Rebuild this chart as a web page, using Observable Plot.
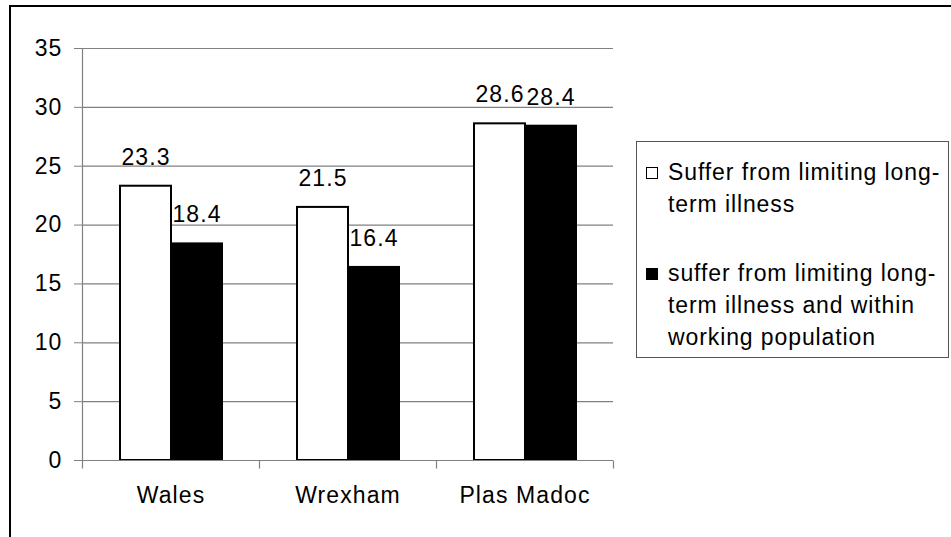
<!DOCTYPE html>
<html>
<head>
<meta charset="utf-8">
<script src="https://cdn.jsdelivr.net/npm/d3@7"></script>
<script src="https://cdn.jsdelivr.net/npm/@observablehq/plot@0.6"></script>
<style>
  html, body { margin: 0; padding: 0; background: #fff; overflow: hidden; }
  #wrap { position: relative; width: 951px; height: 537px; font-family: "Liberation Sans", Arial, sans-serif; }
  #frame { position: absolute; left: 9px; top: 5px; width: 1200px; height: 800px; border-top: 2px solid #000; border-left: 2px solid #000; box-sizing: border-box; pointer-events: none; }
  #chart { position: absolute; left: 0; top: 0; }
  #legend { position: absolute; left: 636px; top: 141px; width: 313px; height: 217px; box-sizing: border-box; border: 1px solid #555; background: #fff;
            font-size: 23px; letter-spacing: 0.9px; color: #000; }
  .entry { position: absolute; left: 31px; line-height: 32px; white-space: nowrap; }
  .sw { position: absolute; left: 9px; width: 12px; height: 12px; box-sizing: border-box; border: 1px solid #000; }
</style>
</head>
<body>
<div id="wrap">
  <div id="chart"></div>
  <div id="frame"></div>
  <div id="legend"></div>
</div>
<script>
const categories = ["Wales", "Wrexham", "Plas Madoc"];
const seriesNames = ["Suffer from limiting long-term illness", "suffer from limiting long-term illness and within working population"];
const legendLines = [["Suffer from limiting long-", "term illness"], ["suffer from limiting long-", "term illness and within", "working population"]];
const seriesColors = ["#ffffff", "#000000"];
const illness = [23.3, 21.5, 28.6];
const illnessWorking = [18.4, 16.4, 28.4];
const yTicks = [0, 5, 10, 15, 20, 25, 30, 35];

const rows = categories.flatMap((c, i) => [
  {category: c, series: seriesNames[0], value: illness[i]},
  {category: c, series: seriesNames[1], value: illnessWorking[i]}
]);

const axisFrame = Plot.frame({
  facet: "super",
  render(index, scales, values, dimensions) {
    const {fx, y} = scales;
    const edges = [...categories.map(c => fx(c)), fx(categories[categories.length - 1]) + fx.bandwidth()];
    const g = d3.create("svg:g").attr("stroke", "#808080").attr("stroke-width", 1.2).attr("fill", "none");
    const y0 = Math.round(y(0)) + 0.5;
    const xl = Math.round(edges[0]) + 0.5;
    g.append("line").attr("x1", xl).attr("x2", xl).attr("y1", y(35)).attr("y2", y0 + 8);
    g.append("line").attr("x1", xl).attr("x2", edges[edges.length - 1]).attr("y1", y0).attr("y2", y0);
    for (const e of edges.slice(1)) {
      const xe = Math.round(e) + 0.5;
      g.append("line").attr("x1", xe).attr("x2", xe).attr("y1", y0).attr("y2", y0 + 8);
    }
    return g.node();
  }
});

const chart = Plot.plot({
  width: 951,
  height: 537,
  marginLeft: 81,
  marginRight: 338,
  marginTop: 48,
  marginBottom: 77,
  style: {fontFamily: "'Liberation Sans', Arial, sans-serif", fontSize: "23px", letterSpacing: "1.1px", background: "transparent", overflow: "visible", color: "#000"},
  fx: {domain: categories, padding: 0},
  x: {domain: seriesNames, paddingInner: 0, paddingOuter: 0.72, axis: null},
  y: {domain: [0, 35]},
  color: {domain: seriesNames, range: seriesColors},
  marks: [
    Plot.gridY(yTicks, {stroke: "#808080", strokeOpacity: 1, strokeWidth: 1.2}),
    Plot.barY(rows, {fx: "category", x: "series", y: "value", fill: "series", stroke: "#000", strokeWidth: 2}),
    Plot.text(rows, {fx: "category", x: "series", y: "value", text: d => d.value.toFixed(1), dy: -29, fill: "#000"}),
    Plot.axisY(yTicks, {tickSize: 8, tickPadding: 12, label: null, stroke: "#808080", tickFormat: d => String(d), fill: "#000"}),
    Plot.axisFx({anchor: "bottom", tickSize: 0, tickPadding: 26, label: null, fill: "#000"}),
    axisFrame
  ]
});
document.getElementById("chart").appendChild(chart);

// legend (HTML)
const legend = document.getElementById("legend");
const entryTops = [14, 115];
legendLines.forEach((lines, i) => {
  const e = document.createElement("div");
  e.className = "entry";
  e.style.top = entryTops[i] + "px";
  e.innerHTML = lines.map(l => `<div>${l}</div>`).join("");
  legend.appendChild(e);
  const sw = document.createElement("div");
  sw.className = "sw";
  sw.style.top = (entryTops[i] + 11) + "px";
  sw.style.background = seriesColors[i];
  legend.appendChild(sw);
});
</script>
</body>
</html>
